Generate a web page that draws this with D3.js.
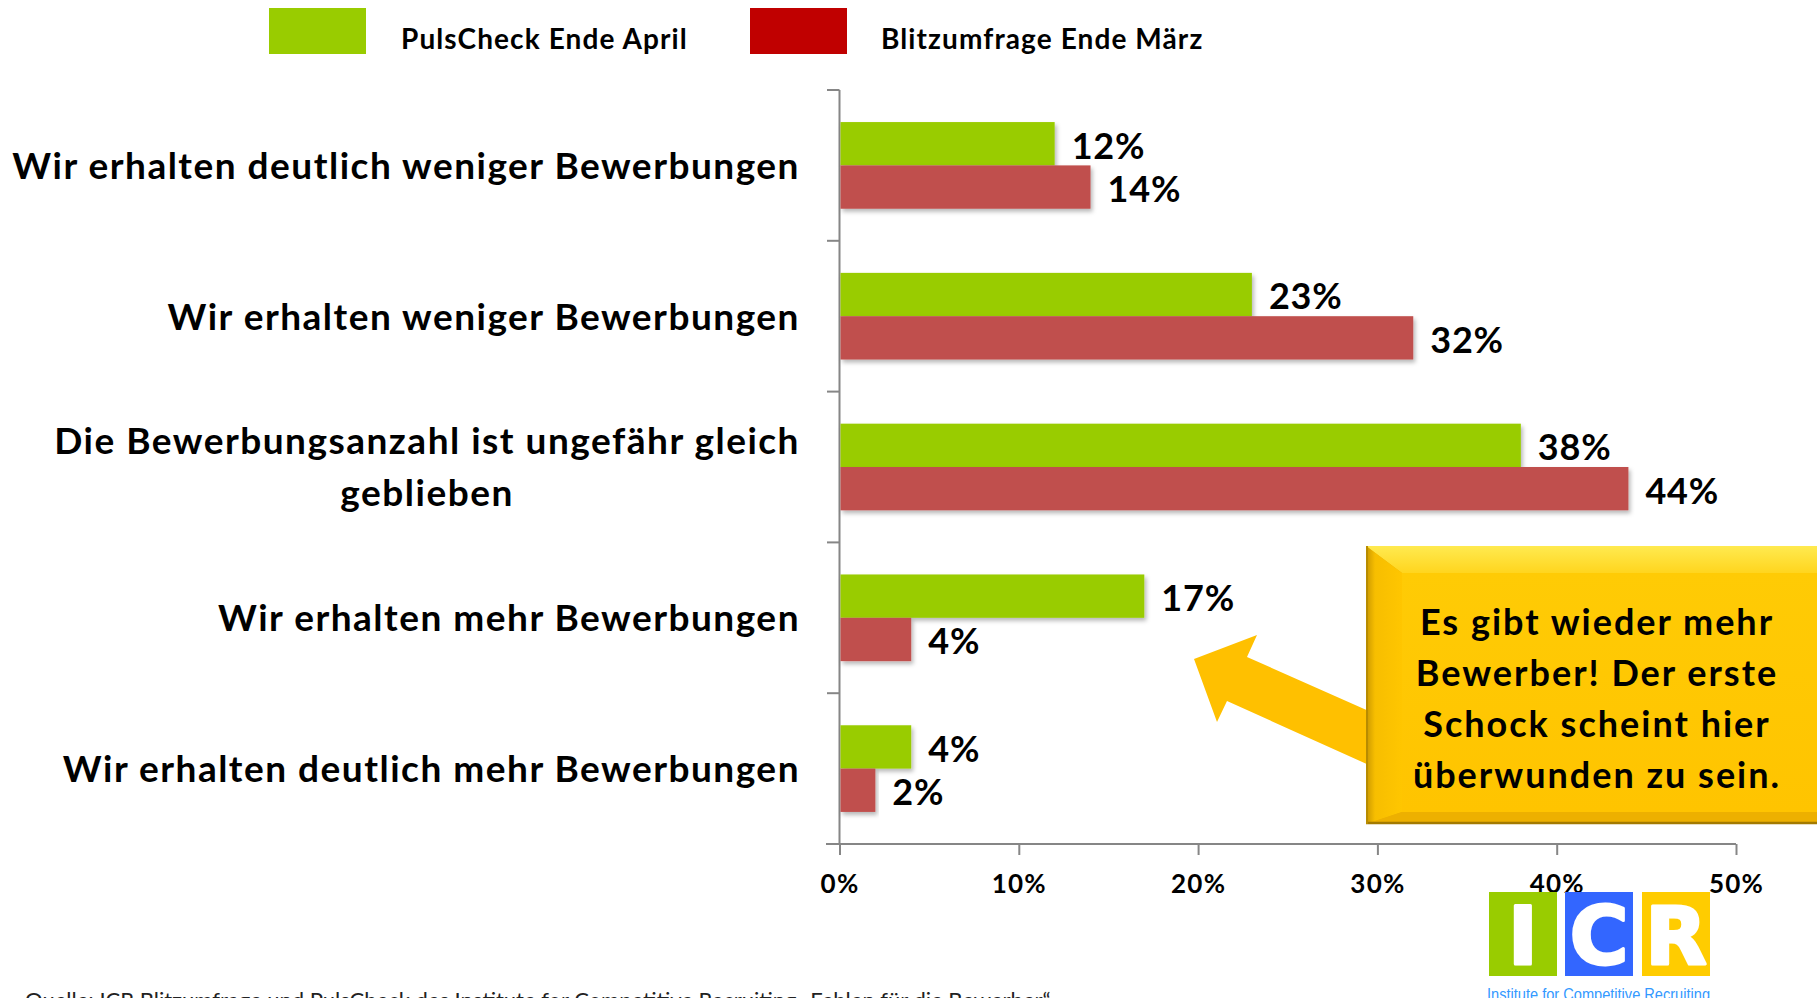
<!DOCTYPE html>
<html>
<head>
<meta charset="utf-8">
<script src="https://cdn.jsdelivr.net/npm/d3@7"></script>
<style>
  html, body { margin: 0; padding: 0; background: #fff; overflow: hidden; }
  svg { display: block; font-family: "Lato", "Open Sans", sans-serif; }
</style>
</head>
<body>
<script>
// ---- data ----
const categories = [
  "Wir erhalten deutlich weniger Bewerbungen",
  "Wir erhalten weniger Bewerbungen",
  "Die Bewerbungsanzahl ist ungefähr gleich|geblieben",
  "Wir erhalten mehr Bewerbungen",
  "Wir erhalten deutlich mehr Bewerbungen"
];
const seriesNames = ["PulsCheck Ende April", "Blitzumfrage Ende März"];
const pulsCheck = [0.12, 0.23, 0.38, 0.17, 0.04];
const blitzumfrage = [0.14, 0.32, 0.44, 0.04, 0.02];
const xTicks = [0, 0.1, 0.2, 0.3, 0.4, 0.5];
const calloutLines = ["Es gibt wieder mehr", "Bewerber! Der erste", "Schock scheint hier", "überwunden zu sein."];

const W = 1817, H = 998;
const barColors = ["#99CC00", "#C0504D"];
const legendColors = ["#99CC00", "#C00000"];

const svg = d3.select("body").append("svg")
  .attr("width", W).attr("height", H);

const defs = svg.append("defs");
const f = defs.append("filter").attr("id", "shadow")
  .attr("x", "-5%").attr("y", "-20%").attr("width", "115%").attr("height", "160%");
f.append("feDropShadow").attr("dx", 2).attr("dy", 3).attr("stdDeviation", 2)
  .attr("flood-color", "#000").attr("flood-opacity", 0.28);

// scales
const x = d3.scaleLinear().domain([0, 0.5]).range([839.5, 1736]);
const y = d3.scaleBand().domain(d3.range(categories.length)).range([90, 844]);
const ySub = d3.scaleBand().domain([0, 1]).range([0, y.bandwidth()])
  .paddingInner(0).paddingOuter(0.74);

// ---- legend ----
const legendX = [269, 750], legendTextX = [401, 881];
seriesNames.forEach((s, i) => {
  svg.append("rect").attr("x", legendX[i]).attr("y", 8)
    .attr("width", 97).attr("height", 46).attr("fill", legendColors[i]);
  svg.append("text").attr("x", legendTextX[i]).attr("y", 49)
    .attr("font-size", 28).attr("font-weight", 700).attr("fill", "#000")
    .attr("letter-spacing", 1.1)
    .text(s);
});

// ---- arrow + callout ----
const arrow = [[1194, 659], [1257, 635], [1247, 657], [1380, 716], [1380, 770], [1227, 701], [1217, 722]];
svg.append("path").attr("d", d3.line()(arrow) + "Z").attr("fill", "#FFC000");

const bx0 = 1366, by0 = 546, bx1 = 1830, by1 = 824, bt = 27, bl = 36, bb = 12;
const gTop = defs.append("linearGradient").attr("id", "gTop").attr("x1", 0).attr("y1", 0).attr("x2", 0).attr("y2", 1);
gTop.append("stop").attr("offset", 0).attr("stop-color", "#FFEA50");
gTop.append("stop").attr("offset", 1).attr("stop-color", "#FFD51E");
const gLeft = defs.append("linearGradient").attr("id", "gLeft").attr("x1", 0).attr("y1", 0).attr("x2", 1).attr("y2", 0);
gLeft.append("stop").attr("offset", 0).attr("stop-color", "#C99700");
gLeft.append("stop").attr("offset", 0.25).attr("stop-color", "#F7BE00");
gLeft.append("stop").attr("offset", 1).attr("stop-color", "#FFC600");
const gIn = defs.append("linearGradient").attr("id", "gIn").attr("x1", 0).attr("y1", 0).attr("x2", 0).attr("y2", 1);
gIn.append("stop").attr("offset", 0).attr("stop-color", "#FFCB05");
gIn.append("stop").attr("offset", 1).attr("stop-color", "#FFC400");

const callout = svg.append("g");
callout.append("rect").attr("x", bx0).attr("y", by0).attr("width", bx1 - bx0).attr("height", by1 - by0).attr("fill", "#E9AE00");
callout.append("path").attr("d", d3.line()([[bx0, by0], [bx1, by0], [bx1, by0 + bt], [bx0 + bl, by0 + bt]]) + "Z").attr("fill", "url(#gTop)");
callout.append("path").attr("d", d3.line()([[bx0, by0], [bx0 + bl, by0 + bt], [bx0 + bl, by1 - bb], [bx0, by1]]) + "Z").attr("fill", "url(#gLeft)");
callout.append("path").attr("d", d3.line()([[bx0, by1], [bx0 + bl, by1 - bb], [bx1, by1 - bb], [bx1, by1]]) + "Z").attr("fill", "#EDB000");
callout.append("rect").attr("x", bx0 + bl).attr("y", by0 + bt).attr("width", bx1 - bx0 - bl).attr("height", by1 - by0 - bt - bb).attr("fill", "url(#gIn)");
callout.append("line").attr("x1", bx0).attr("x2", bx1).attr("y1", by1 - 1).attr("y2", by1 - 1).attr("stroke", "#A37A00").attr("stroke-width", 2.5);
callout.append("line").attr("x1", bx0 + 1).attr("x2", bx0 + 1).attr("y1", by0).attr("y2", by1).attr("stroke", "#B88C00").attr("stroke-width", 2);
callout.selectAll("text.call").data(calloutLines).join("text")
  .attr("class", "call")
  .attr("x", 1597).attr("y", (d, i) => 635 + i * 51)
  .attr("text-anchor", "middle").attr("font-size", 36).attr("font-weight", 700)
  .attr("letter-spacing", 2)
  .attr("fill", "#000").text(d => d);

// ---- axes ----
const axisColor = "#868686";
svg.append("line").attr("x1", 839.5).attr("x2", 839.5).attr("y1", 90).attr("y2", 844)
  .attr("stroke", axisColor).attr("stroke-width", 2);
const catTicks = categories.map((c, i) => y(i)).concat([844]);
svg.selectAll("line.ctick").data(catTicks).join("line").attr("class", "ctick")
  .attr("x1", 827).attr("x2", 839.5).attr("y1", d => d).attr("y2", d => d)
  .attr("stroke", axisColor).attr("stroke-width", 2);

const xAxis = svg.append("g").attr("transform", "translate(0,844)")
  .call(d3.axisBottom(x).tickValues(xTicks).tickFormat(d3.format(".0%")).tickSize(11).tickPadding(20));
xAxis.select(".domain").attr("stroke", axisColor).attr("stroke-width", 2)
  .attr("d", "M826,0H1736");
xAxis.selectAll(".tick line").attr("stroke", axisColor).attr("stroke-width", 2);
xAxis.selectAll(".tick text").attr("font-size", 26).attr("font-weight", 700)
  .attr("letter-spacing", 1.2)
  .attr("fill", "#000").attr("font-family", "Lato, sans-serif");

// ---- bars ----
const series = [pulsCheck, blitzumfrage];
series.forEach((vals, s) => {
  svg.selectAll("rect.bar" + s).data(vals).join("rect")
    .attr("class", "bar" + s)
    .attr("x", x(0) + 1)
    .attr("y", (d, i) => y(i) + ySub(s))
    .attr("width", d => x(d) - x(0) - 1)
    .attr("height", ySub.bandwidth())
    .attr("fill", barColors[s])
    .attr("filter", "url(#shadow)");
  svg.selectAll("text.val" + s).data(vals).join("text")
    .attr("class", "val" + s)
    .attr("x", d => x(d) + 17)
    .attr("y", (d, i) => y(i) + ySub(s) + ySub.bandwidth() / 2 + 2)
    .attr("dy", "0.36em")
    .attr("font-size", 36).attr("font-weight", 700).attr("fill", "#000")
    .attr("letter-spacing", 0.8)
    .text(d => d3.format(".0%")(d));
});

// ---- category labels ----
categories.forEach((c, i) => {
  const lines = c.split("|");
  const cy = y(i) + y.bandwidth() / 2;
  const lh = 52;
  const t = svg.append("text")
    .attr("font-size", 37).attr("font-weight", 700).attr("fill", "#000")
    .attr("letter-spacing", 1.5)
    .attr("text-anchor", "middle");
  lines.forEach((l, k) => {
    t.append("tspan").attr("y", cy + (k - (lines.length - 1) / 2) * lh)
      .attr("dy", "0.36em").text(l);
  });
  // block right edge at x=800, lines centred on each other
  const tspans = t.selectAll("tspan").nodes();
  const maxW = d3.max(tspans, n => n.getComputedTextLength());
  t.selectAll("tspan").attr("x", 800 - maxW / 2);
});

// ---- logo ----
const logoLetters = ["I", "C", "R"];
const logoColors = ["#99CC00", "#3366FF", "#FFCC00"];
const logoX = [1489, 1565, 1642];
logoLetters.forEach((l, i) => {
  svg.append("rect").attr("x", logoX[i]).attr("y", 892).attr("width", 68).attr("height", 84)
    .attr("fill", logoColors[i]);
  svg.append("text").attr("x", logoX[i] + 34).attr("y", 964)
    .attr("text-anchor", "middle").attr("font-family", "DejaVu Sans, sans-serif")
    .attr("font-weight", 700).attr("font-size", 80)
    .attr("fill", "#fff").attr("stroke", "#fff").attr("stroke-width", 3).attr("stroke-linejoin", "round")
    .text(l);
});
svg.append("text").attr("x", 1487).attr("y", 1000)
  .attr("font-family", "Liberation Sans, Arial, sans-serif").attr("font-size", 16)
  .attr("textLength", 223).attr("lengthAdjust", "spacingAndGlyphs")
  .attr("fill", "#3399FF").text("Institute for Competitive Recruiting");

// source line, cut off at the bottom edge like in the original
svg.append("text").attr("x", 25).attr("y", 1008)
  .attr("font-size", 22).attr("fill", "#222")
  .text("Quelle: ICR Blitzumfrage und PulsCheck des Institute for Competitive Recruiting „Fehlen für die Bewerber“");
</script>
</body>
</html>
